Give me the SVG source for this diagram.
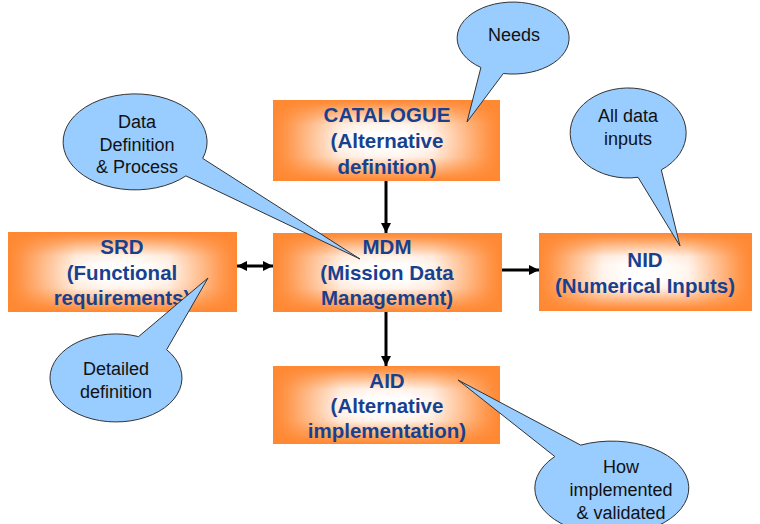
<svg xmlns="http://www.w3.org/2000/svg" width="760" height="524" viewBox="0 0 760 524">
<defs>
<linearGradient id="gh" x1="0" y1="0" x2="1" y2="0">
<stop offset="0" stop-color="#000"/>
<stop offset="0.06" stop-color="#222"/>
<stop offset="0.3" stop-color="#e8e8e8"/>
<stop offset="0.42" stop-color="#fff"/>
<stop offset="0.58" stop-color="#fff"/>
<stop offset="0.7" stop-color="#e8e8e8"/>
<stop offset="0.94" stop-color="#222"/>
<stop offset="1" stop-color="#000"/>
</linearGradient>
<linearGradient id="gv" x1="0" y1="0" x2="0" y2="1">
<stop offset="0" stop-color="#000"/>
<stop offset="0.06" stop-color="#222"/>
<stop offset="0.3" stop-color="#e8e8e8"/>
<stop offset="0.42" stop-color="#fff"/>
<stop offset="0.58" stop-color="#fff"/>
<stop offset="0.7" stop-color="#e8e8e8"/>
<stop offset="0.94" stop-color="#222"/>
<stop offset="1" stop-color="#000"/>
</linearGradient>
<mask id="mv" maskContentUnits="objectBoundingBox">
<rect width="1" height="1" fill="url(#gv)"/>
</mask>
<mask id="mw" maskContentUnits="objectBoundingBox">
<rect width="1" height="1" fill="url(#gh)" mask="url(#mv)"/>
</mask>
<marker id="ah" viewBox="0 0 10 10" refX="10" refY="5" markerWidth="10" markerHeight="10" markerUnits="userSpaceOnUse" orient="auto-start-reverse">
<path d="M0,0 L10,5 L0,10 Z" fill="#000"/>
</marker>
<style>
.box{fill:#FF8832;}
.glow{fill:#FFFFFF;mask:url(#mw);}
.bt{font-family:"Liberation Sans",Arial,sans-serif;font-weight:bold;font-size:20.5px;fill:#17418F;text-anchor:middle;}
.bub{fill:#99CCFF;stroke:#333;stroke-width:1;stroke-linejoin:miter;}
.ct{font-family:"Liberation Sans",Arial,sans-serif;font-size:18px;fill:#111;text-anchor:middle;}
.con{stroke:#000;stroke-width:3;fill:none;}
</style>
</defs>
<rect width="760" height="524" fill="#fff"/>

<g id="catalogue">
<rect class="box" x="273" y="100" width="227" height="81"/>
<rect class="glow" x="273" y="100" width="227" height="81"/>
<text class="bt" x="387" y="122">CATALOGUE</text>
<text class="bt" x="387" y="148">(Alternative</text>
<text class="bt" x="387" y="174">definition)</text>
</g>
<g id="srd">
<rect class="box" x="8" y="232" width="229" height="80"/>
<rect class="glow" x="8" y="232" width="229" height="80"/>
<text class="bt" x="122" y="254">SRD</text>
<text class="bt" x="122" y="280">(Functional</text>
<text class="bt" x="122" y="305">requirements)</text>
</g>
<g id="mdm">
<rect class="box" x="273" y="233" width="229" height="79"/>
<rect class="glow" x="273" y="233" width="229" height="79"/>
<text class="bt" x="387" y="254">MDM</text>
<text class="bt" x="387" y="280">(Mission Data</text>
<text class="bt" x="387" y="305">Management)</text>
</g>
<g id="nid">
<rect class="box" x="539" y="233" width="213" height="78"/>
<rect class="glow" x="539" y="233" width="213" height="78"/>
<text class="bt" x="645" y="267">NID</text>
<text class="bt" x="645" y="293">(Numerical Inputs)</text>
</g>
<g id="aid">
<rect class="box" x="273" y="366" width="227" height="78"/>
<rect class="glow" x="273" y="366" width="227" height="78"/>
<text class="bt" x="387" y="388">AID</text>
<text class="bt" x="387" y="413">(Alternative</text>
<text class="bt" x="387" y="438">implementation)</text>
</g>

<g id="connectors">
<line class="con" x1="386" y1="181" x2="386" y2="233" marker-end="url(#ah)"/>
<line class="con" x1="237" y1="266" x2="273" y2="266" marker-start="url(#ah)" marker-end="url(#ah)"/>
<line class="con" x1="502" y1="270" x2="539" y2="270" marker-end="url(#ah)"/>
<line class="con" x1="386" y1="312" x2="386" y2="366" marker-end="url(#ah)"/>
</g>

<g id="callout-needs">
<path class="bub" d="M480.9,67.5 A56 36 0 1 1 503.3,73.5 L467,122 Z"/>
<text class="ct" x="514" y="41">Needs</text>
</g>
<g id="callout-data">
<path class="bub" d="M185.9,175.9 A72 48 0 1 1 202.7,158.4 L360,259 Z"/>
<text class="ct" x="137" y="128">Data</text>
<text class="ct" x="137" y="151">Definition</text>
<text class="ct" x="137" y="173">&amp; Process</text>
</g>
<g id="callout-inputs">
<path class="bub" d="M638.1,177.3 A58 45 0 1 1 661.3,169.9 L680,246 Z"/>
<text class="ct" x="628" y="122">All data</text>
<text class="ct" x="628" y="145">inputs</text>
</g>
<g id="callout-detailed">
<path class="bub" d="M166.6,349.7 A66 44 0 1 1 138.6,336.6 L208,278 Z"/>
<text class="ct" x="116" y="375">Detailed</text>
<text class="ct" x="116" y="398">definition</text>
</g>
<g id="callout-how">
<path class="bub" d="M580.7,445.1 A77 47 0 1 1 554.8,456.5 L458,380 Z"/>
<text class="ct" x="621" y="473">How</text>
<text class="ct" x="621" y="496">implemented</text>
<text class="ct" x="621" y="519">&amp; validated</text>
</g>
</svg>
